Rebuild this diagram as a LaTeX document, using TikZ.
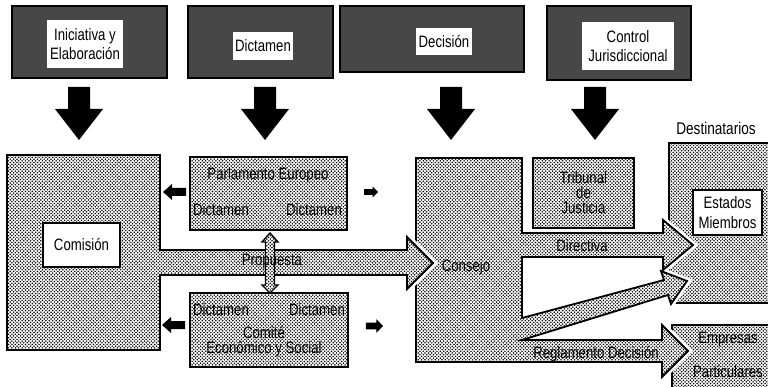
\documentclass[tikz,border=0pt]{standalone}
\usepackage{fontspec}
\setmainfont{Liberation Sans}[FakeStretch=0.8]
\usetikzlibrary{patterns}
\pgfdeclarepatternformonly{eudots}{\pgfqpoint{-1pt}{-1pt}}{\pgfqpoint{4.4pt}{4.4pt}}{\pgfqpoint{3.4pt}{3.4pt}}{%
  \pgfpathcircle{\pgfqpoint{0pt}{0pt}}{.85pt}%
  \pgfpathcircle{\pgfqpoint{1.7pt}{1.7pt}}{.85pt}%
  \pgfusepath{fill}}
\tikzset{
  dotfill/.style={preaction={fill=white}, pattern=eudots, draw=black, line width=1.8pt, line join=miter},
  halo/.style={preaction={draw=white, line width=7pt}},
  hdr/.style={draw=black, line width=1.2pt, fill=black!72, inner sep=0pt},
  wbox/.style={fill=white, inner sep=0pt},
  lbl/.style={font=\fontsize{16.5}{16}\selectfont, inner sep=0pt, align=center},
  downarr/.pic={\fill[black] (-11,0) -- (11,0) -- (11,22) -- (24,22) -- (0,53) -- (-24,22) -- (-11,22) -- cycle;},
  leftarr/.pic={\fill[black] (0,0) -- (9,-8) -- (9,-4) -- (23,-4) -- (23,4) -- (9,4) -- (9,8) -- cycle;}
}
\begin{document}
\begin{tikzpicture}[x=1pt, y=-1pt]
\clip (0,0) rectangle (768,387);
\fill[white] (0,0) rectangle (768,387);

% header boxes
\node[hdr, minimum width=155pt, minimum height=72pt] (H1) at (89.5,42) {};
\node[hdr, minimum width=145pt, minimum height=72pt] (H2) at (260.5,42) {};
\node[hdr, minimum width=184pt, minimum height=66pt] (H3) at (432,39) {};
\node[hdr, minimum width=144pt, minimum height=74pt] (H4) at (619,43) {};
\node[wbox, lbl, minimum width=76pt, minimum height=48pt, font=\fontsize{16.5}{19}\selectfont] (I1) at (85,44) {Iniciativa y\\Elaboración};
\node[wbox, lbl, minimum width=60pt, minimum height=28pt] (I2) at (263,46) {Dictamen};
\node[wbox, lbl, minimum width=56pt, minimum height=27pt] (I3) at (444,41.5) {Decisión};
\node[wbox, lbl, minimum width=92pt, minimum height=48pt, font=\fontsize{16.5}{19}\selectfont] (I4) at (628,46) {Control\\Jurisdiccional};

% big down arrows
\pic at (79,87) {downarr};
\pic at (265,87) {downarr};
\pic at (451,87) {downarr};
\pic at (595,87) {downarr};

\node[lbl, font=\fontsize{17}{17}\selectfont] (dest) at (716,128) {Destinatarios};

% destination boxes
\path[dotfill] (669,143) rectangle (775,303);
\path[dotfill] (672,325) rectangle (775,395);

% Consejo shape with outgoing arrows
\path[halo, dotfill] (416,158) -- (522,158) -- (522,233) -- (663,233) -- (663,220) -- (693,245)
  -- (663,270) -- (663,257) -- (522,257) -- (522,318) -- (664,280) -- (661,271) -- (687,281)
  -- (671,304) -- (668,295) -- (522,340) -- (662,340) -- (662,325) -- (688,351) -- (662,377)
  -- (662,362) -- (416,362) -- cycle;

% Tribunal
\node[dotfill, lbl, minimum width=101pt, minimum height=70pt, font=\fontsize{16.5}{15}\selectfont] (trib) at (583.5,193) {Tribunal\\de\\Justicia};

% Estados Miembros inner box
\node[wbox, draw=black, line width=1.2pt, lbl, minimum width=69pt, minimum height=45pt, font=\fontsize{16.5}{20}\selectfont] (est) at (727.5,212.5) {Estados\\Miembros};

% Comision shape with Propuesta arrow
\path[halo, dotfill] (7,155) -- (160,155) -- (160,250) -- (407,250) -- (407,237) -- (433,263)
  -- (407,289) -- (407,275) -- (160,275) -- (160,350) -- (7,350) -- cycle;
\node[wbox, draw=black, line width=1.2pt, lbl, minimum width=77pt, minimum height=44pt] (com) at (81.5,245) {Comisión};

% Parlamento and Comite boxes
\node[dotfill, minimum width=157pt, minimum height=73pt] (parl) at (268.5,193.5) {};
\node[dotfill, minimum width=158pt, minimum height=74pt] (ces) at (269,330) {};

% vertical double arrow
\path[dotfill, line width=1.4pt] (270,233) -- (278,242) -- (274.5,242) -- (274.5,285) -- (278,285) -- (270,293)
  -- (262,285) -- (265.5,285) -- (265.5,242) -- (262,242) -- cycle;

% small arrows
\pic at (163,192) {leftarr};
\pic at (162,325) {leftarr};
\pic[xscale=-0.6, yscale=0.7] at (378,192) {leftarr};
\pic[xscale=-0.75, yscale=0.85] at (383,326) {leftarr};

% texts
\node[lbl] (pe) at (268,175) {Parlamento Europeo};
\node[lbl] (pd1) at (221,210) {Dictamen};
\node[lbl] (pd2) at (314,210) {Dictamen};
\node[lbl] (cd1) at (221,310) {Dictamen};
\node[lbl] (cd2) at (317,310) {Dictamen};
\node[lbl, font=\fontsize{16.5}{15}\selectfont] (cesl) at (264,342) {Comité\\Económico y Social};
\node[lbl] (prop) at (272,262) {Propuesta};
\node[lbl] (cons) at (466,267) {Consejo};
\node[lbl] (dir) at (582,246) {Directiva};
\node[lbl] (reg) at (596,354) {Reglamento Decisión};
\node[lbl] (emp) at (728,340) {Empresas};
\node[lbl] (par) at (728,372) {Particulares};
\end{tikzpicture}
\end{document}
